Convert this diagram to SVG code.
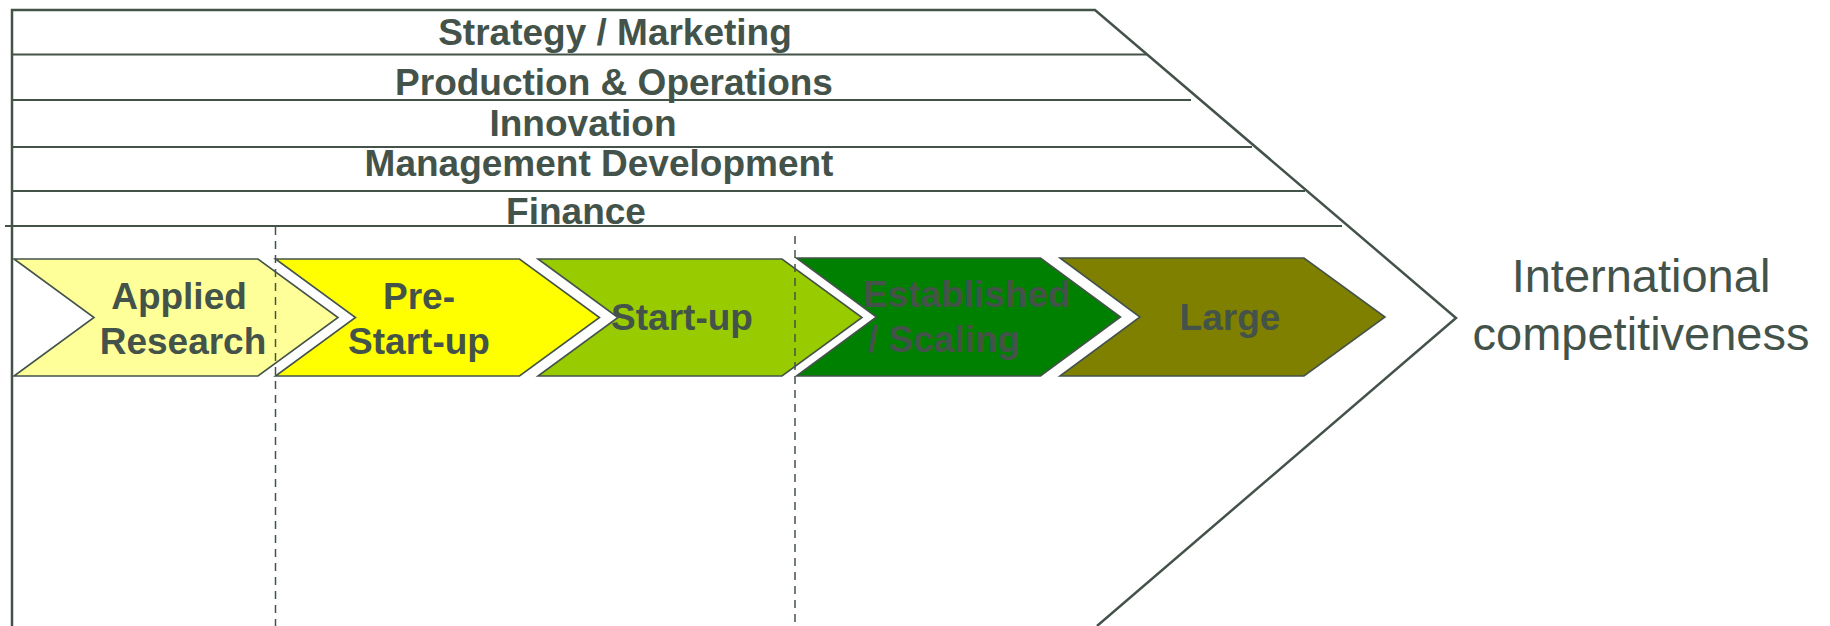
<svg xmlns="http://www.w3.org/2000/svg" width="1830" height="626" viewBox="0 0 1830 626">
<style>
.frame{fill:none;stroke:#44534A;stroke-width:2.5}
.band{fill:none;stroke:#44534A;stroke-width:2}
.chev{stroke:#44534A;stroke-width:1.6}
.div{fill:none;stroke:#44534A;stroke-width:1.5;stroke-dasharray:8 6}
.b{font-family:"Liberation Sans",Arial,sans-serif;font-weight:bold;font-size:37px;fill:#44534A;text-anchor:middle}
.r{font-family:"Liberation Sans",Arial,sans-serif;font-size:47px;fill:#44534A;text-anchor:middle}
</style>
<rect width="1830" height="626" fill="#ffffff"/>
<g id="frame">
<path class="frame" d="M12,626 L12,10 L1095,10 L1456,318 L1097,626"/>
</g>
<g id="bands">
<g id="band-strategy"><line class="band" x1="12" y1="54.5" x2="1147" y2="54.5"/><text class="b" x="615" y="45">Strategy / Marketing</text></g>
<g id="band-production"><line class="band" x1="12" y1="100" x2="1191" y2="100"/><text class="b" x="614" y="95">Production &amp; Operations</text></g>
<g id="band-innovation"><line class="band" x1="12" y1="147" x2="1252" y2="147"/><text class="b" x="583" y="136">Innovation</text></g>
<g id="band-management"><line class="band" x1="12" y1="191" x2="1305" y2="191"/><text class="b" x="599" y="176">Management Development</text></g>
<g id="band-finance"><line class="band" x1="5" y1="226" x2="1342" y2="226"/><text class="b" x="576" y="224">Finance</text></g>
</g>
<g id="stage-applied">
<path class="chev" fill="#FFFF99" d="M14,259 H258 L338,317.5 L258,376 H14 L94,317.5 Z"/>
<text class="b" x="179" y="309">Applied</text>
<text class="b" x="183" y="354">Research</text>
</g>
<g id="stage-prestartup">
<path class="chev" fill="#FFFF00" d="M275.5,259 H519.5 L599.5,317.5 L519.5,376 H275.5 L355.5,317.5 Z"/>
<text class="b" x="419" y="309">Pre-</text>
<text class="b" x="419" y="354">Start-up</text>
</g>
<g id="stage-startup">
<path class="chev" fill="#99CC00" d="M538,259 H782 L862,317.5 L782,376 H538 L618,317.5 Z"/>
<text class="b" x="682" y="330">Start-up</text>
</g>
<g id="stage-established">
<path class="chev" fill="#008000" d="M796.5,258 H1040.5 L1120.5,317 L1040.5,376 H796.5 L876.5,317 Z"/>
<text class="b" x="863" y="307" style="text-anchor:start">Established</text>
<text class="b" x="868" y="352" style="text-anchor:start">/ Scaling</text>
</g>
<g id="stage-large">
<path class="chev" fill="#808000" d="M1060,258 H1304 L1385,317 L1304,376 H1060 L1140,317 Z"/>
<text class="b" x="1230" y="330">Large</text>
</g>
<g id="outcome">
<text class="r" x="1641" y="292">International</text>
<text class="r" x="1641" y="350">competitiveness</text>
</g>
<g id="connectors">
<line class="div" x1="275.5" y1="227" x2="275.5" y2="626"/>
<line class="div" x1="795" y1="236" x2="795" y2="626"/>
</g>
</svg>
